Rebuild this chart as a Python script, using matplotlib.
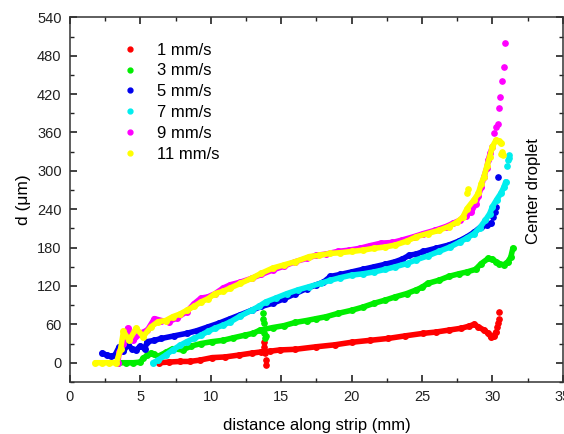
import matplotlib

matplotlib.use("Agg")
import matplotlib.pyplot as plt
from matplotlib.lines import Line2D
from matplotlib.ticker import MultipleLocator

plt.rcParams["font.family"] = ["Liberation Sans", "DejaVu Sans"]

# 1 mm/s
red_x = [6.3, 7.0, 7.8, 8.5, 9.2, 10.1, 11.0, 12.0, 12.9, 13.6, 14.2, 14.9, 16.0,
         17.5, 18.8, 20.0, 21.3, 22.6, 23.8, 25.1, 26.0, 26.9, 27.8, 28.3, 28.7,
         29.0, 29.4, 29.7, 29.9, 30.1, 30.25]
red_y = [0, 1, 2, 2, 4, 8, 9, 12, 15, 17, 18, 20, 21, 25, 28, 32, 35, 38, 42, 46,
         48, 51, 54, 57, 60, 56, 51, 46, 40, 42, 48]
red_dots_x = [13.75, 13.8, 13.85, 13.9, 13.95, 30.35, 30.4, 30.45, 30.5]
red_dots_y = [33, 25, 15, 5, -3, 56, 62, 68, 79]

# 3 mm/s
green_x = [3.4, 4.0, 4.5, 5.0, 5.2, 5.5, 5.75, 6.0, 6.25, 6.8, 7.3, 8.0, 8.6, 9.3,
           10.1, 10.85, 11.6, 12.4, 13.0, 13.5, 14.4, 15.2, 16.0, 16.8, 17.5,
           18.2, 19.0, 20.0, 20.8, 21.6, 22.4, 23.1, 23.9, 24.6, 25.0, 25.4,
           26.2, 26.9, 27.6, 28.2, 28.8, 29.2, 29.7, 30.0, 30.25, 30.5, 30.8,
           31.1, 31.3, 31.45]
green_y = [0, 0, 0, 1, 7, 12, 15, 13, 10, 16, 22, 20, 26, 30, 33, 35, 39, 43, 46,
           51, 55, 58, 63, 66, 69, 72, 77, 82, 87, 93, 98, 103, 108, 114, 118,
           124, 129, 135, 139, 142, 146, 155, 163, 162, 158, 155, 153, 158, 165,
           179]
green_dots_x = [13.7, 13.72, 13.75, 13.8, 13.85, 13.9]
green_dots_y = [77, 69, 62, 46, 38, 42]

# 5 mm/s
blue_x = [2.3, 2.6, 2.9, 3.2, 3.5, 3.8, 4.1, 4.4, 4.7, 5.0, 5.3, 5.5, 6.0, 6.5, 7.4,
          8.3, 9.0, 9.8, 10.6, 11.4, 12.1, 12.9, 13.6, 14.4, 15.2, 16.0, 16.8,
          17.5, 18.0, 18.5, 19.2, 20.0, 20.8, 21.6, 22.4, 23.1, 23.6, 24.1, 24.6,
          25.1, 26.0, 26.9, 27.6, 28.2, 28.7, 29.2, 29.6, 29.9]
blue_y = [15, 12, 10, 12, 25, 18, 28, 22, 20, 26, 22, 33, 35, 38, 42, 46, 50, 56,
          62, 69, 75, 82, 88, 93, 100, 108, 116, 122, 126, 135, 138, 142, 146,
          150, 154, 158, 162, 168, 170, 174, 179, 184, 190, 197, 204, 213, 215,
          218]
blue_dots_x = [30.05, 30.15, 30.25, 30.4]
blue_dots_y = [228, 236, 244, 291]

# 7 mm/s
cyan_x = [5.9, 6.25, 6.8, 7.3, 7.8, 8.3, 8.8, 9.3, 9.8, 10.3, 10.9, 11.4, 12.1,
          12.9, 13.4, 13.9, 14.6, 15.4, 16.2, 17.0, 17.8, 18.5, 19.2, 20.0, 20.8,
          21.6, 22.4, 23.1, 23.9, 24.6, 25.4, 26.2, 27.0, 27.7, 28.2, 28.7, 29.1,
          29.5, 29.8, 30.0, 30.3, 30.6, 30.8, 30.95]
cyan_y = [0, 4, 12, 20, 27, 33, 38, 43, 49, 54, 59, 64, 73, 82, 88, 95, 101, 108,
          114, 119, 124, 129, 133, 137, 139, 142, 146, 150, 155, 161, 167, 174,
          181, 189, 195, 202, 211, 223, 233, 244, 255, 265, 274, 283]
cyan_dots_x = [31.0, 31.1, 31.2, 31.2]
cyan_dots_y = [307, 317, 325, 320]

# 9 mm/s
pink_x = [3.4, 3.5, 3.8, 4.1, 4.5, 5.0, 5.5, 6.0, 6.5, 7.0, 7.6, 8.3, 8.8, 9.3,
          9.8, 10.3, 10.9, 11.4, 12.1, 12.9, 13.6, 14.4, 15.2, 16.0, 16.8, 17.5,
          18.2, 19.0, 19.8, 20.6, 21.3, 22.1, 22.9, 23.6, 24.4, 25.1, 25.9, 26.7,
          27.2, 27.7, 28.1, 28.5, 28.8, 29.0, 29.2, 29.4, 29.6, 29.7, 29.85, 30.0]
pink_y = [0, 17, 30, 54, 35, 46, 51, 69, 66, 64, 70, 80, 92, 101, 103, 108, 117,
          122, 126, 132, 138, 145, 151, 158, 163, 168, 170, 174, 176, 179, 183,
          187, 188, 192, 197, 202, 207, 213, 218, 223, 230, 236, 248, 260, 275,
          291, 305, 317, 328, 338]
pink_dots_x = [30.1, 30.25, 30.4, 30.5, 30.55, 30.7, 30.8, 30.9]
pink_dots_y = [359, 368, 374, 398, 416, 440, 463, 500]

# 11 mm/s
yellow_x = [1.8, 2.3, 2.8, 3.3, 3.6, 3.8, 4.2, 4.7, 5.2, 5.75, 6.25, 6.8, 7.3,
            7.8, 8.3, 8.8, 9.3, 9.8, 10.3, 10.9, 11.4, 12.1, 12.9, 13.6, 14.4,
            15.2, 16.0, 17.0, 17.7, 18.5, 19.2, 20.0, 20.8, 21.6, 22.4, 23.1,
            23.9, 24.6, 25.4, 26.2, 26.9, 27.5, 27.9, 28.2, 28.7, 29.0, 29.2,
            29.4, 29.6, 29.8, 30.0, 30.25, 30.45, 30.6]
yellow_y = [0, 0, 0, 0, 22, 49, 35, 54, 41, 56, 64, 66, 72, 76, 82, 88, 95, 100,
            108, 112, 117, 124, 132, 140, 148, 153, 158, 166, 168, 171, 172, 174,
            176, 179, 181, 184, 190, 197, 202, 207, 213, 220, 228, 241, 255, 265,
            280, 291, 307, 322, 338, 348, 346, 343]
yellow_dots_x = [28.2, 28.25, 30.7, 30.75, 30.6]
yellow_dots_y = [265, 272, 330, 325, 327]

labels = ["1 mm/s", "3 mm/s", "5 mm/s", "7 mm/s", "9 mm/s", "11 mm/s"]
colors = ["#ff0000", "#00ee00", "#0000ee", "#00eeee", "#ff00ff", "#ffff00"]
traces = [(red_x, red_y), (green_x, green_y), (blue_x, blue_y),
          (cyan_x, cyan_y), (pink_x, pink_y), (yellow_x, yellow_y)]
dots = [(red_dots_x, red_dots_y), (green_dots_x, green_dots_y),
        (blue_dots_x, blue_dots_y), (cyan_dots_x, cyan_dots_y),
        (pink_dots_x, pink_dots_y), (yellow_dots_x, yellow_dots_y)]

fig = plt.figure(figsize=(5.64, 4.34), dpi=100)
ax = fig.add_axes([0.124, 0.12, 0.874, 0.84])

for (tx, ty), (dx, dy), c in zip(traces, dots, colors):
    ax.plot(tx, ty, color=c, lw=4, marker="o", ms=4, solid_capstyle="round")
    ax.plot(dx, dy, color=c, ls="none", marker="o", ms=3.8)

ax.set_xlim(0, 35)
ax.set_ylim(-30, 540)
ax.xaxis.set_major_locator(MultipleLocator(5))
ax.xaxis.set_minor_locator(MultipleLocator(2.5))
ax.yaxis.set_major_locator(MultipleLocator(60))
ax.yaxis.set_minor_locator(MultipleLocator(30))
ax.tick_params(which="both", direction="in", top=True, right=True,
               labelsize=10.5, colors="#222222", pad=6)
ax.tick_params(which="major", length=5, width=1.2)
ax.tick_params(which="minor", length=3, width=1)
for s in ax.spines.values():
    s.set_linewidth(1.1)
    s.set_color("#333333")

ax.set_xlabel("distance along strip (mm)", fontsize=12, labelpad=10)
ax.set_ylabel("d (μm)", fontsize=12.5, labelpad=4)
ax.text(32.9, 268, "Center droplet", rotation=90, fontsize=12,
        ha="center", va="center")

handles = [Line2D([], [], color=c, ls="none", marker="o", ms=3.5) for c in colors]
ax.legend(handles, labels, loc="upper left", bbox_to_anchor=(0.066, 0.972),
          frameon=False, fontsize=12, handlelength=1.5, handletextpad=0.9,
          labelspacing=0.35)

fig.savefig("out.png", dpi=100)
